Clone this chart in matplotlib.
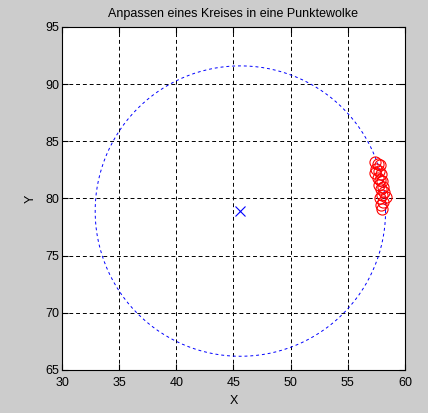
import numpy as np
from matplotlib import pyplot as plt

plt.rcParams['font.family'] = ['Liberation Sans', 'DejaVu Sans']

# Punktewolke
px = [57.4, 57.6, 57.8, 57.5, 57.7, 57.4, 57.9, 57.6, 57.8, 58.0,
      57.7, 58.1, 57.9, 58.2, 58.0, 58.3, 57.8, 58.1, 57.9, 58.0]
py = [83.2, 83.0, 82.9, 82.6, 82.4, 82.2, 82.1, 81.8, 81.6, 81.5,
      81.2, 81.0, 80.8, 80.6, 80.3, 80.1, 80.0, 79.7, 79.4, 79.1]

# angepasster Kreis
xc = 45.6
yc = 78.9
r = 12.7

xticks = [30, 35, 40, 45, 50, 55, 60]
yticks = [65, 70, 75, 80, 85, 90, 95]

fig = plt.figure(figsize=(4.28, 4.13), dpi=100, facecolor='#cccccc')
ax = fig.add_axes([62/428, 43/413, 343/428, 343/413])

t = np.linspace(0, 2*np.pi, 400)
ax.plot(xc + r*np.cos(t), yc + r*np.sin(t), color='blue', linestyle=(0, (3, 3)), linewidth=0.7)
ax.plot(xc, yc, 'x', color='blue', markersize=7, markeredgewidth=0.8)
ax.plot(px, py, 'o', markerfacecolor='none', markeredgecolor='red', markersize=8, markeredgewidth=0.8)

ax.set_xlim(30, 60)
ax.set_ylim(65, 95)
ax.set_xticks(xticks)
ax.set_yticks(yticks)
ax.grid(True, color='black', linestyle=(0, (4, 3)), linewidth=0.7)
ax.tick_params(direction='in', top=True, right=True, labelsize=9, length=4)
ax.tick_params(axis='x', pad=5)
ax.tick_params(axis='y', pad=2)
for s in ax.spines.values():
    s.set_linewidth(0.8)

ax.set_title('Anpassen eines Kreises in eine Punktewolke', fontsize=9, pad=7)
ax.set_xlabel('X', fontsize=9, labelpad=4)
ax.set_ylabel('Y', fontsize=9, labelpad=6)

fig.savefig('out.png', dpi=100, facecolor=fig.get_facecolor())
